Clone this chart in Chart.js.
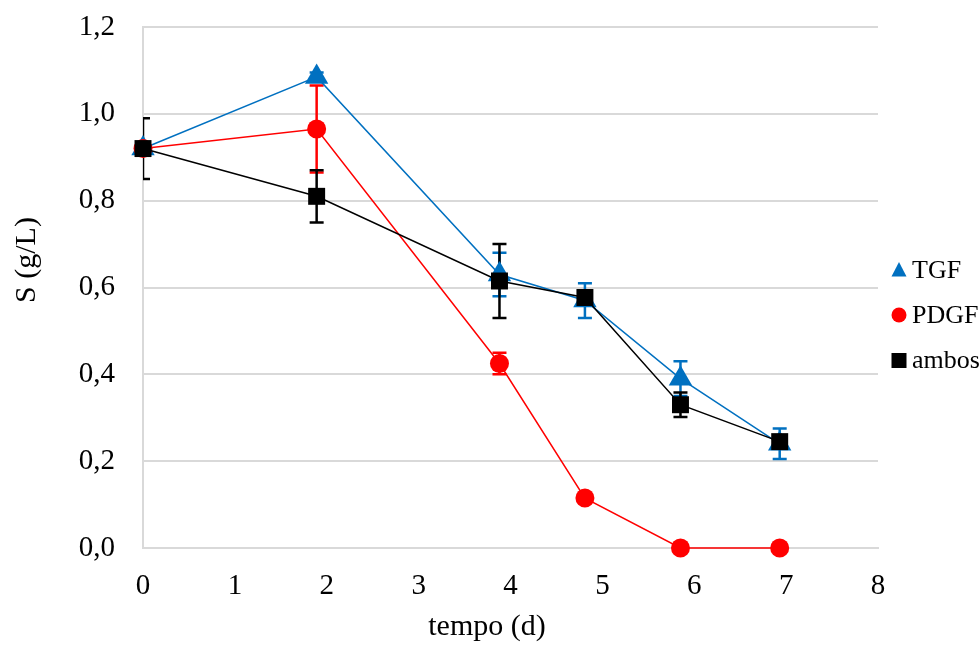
<!DOCTYPE html>
<html>
<head>
<meta charset="utf-8">
<script src="https://cdn.jsdelivr.net/npm/chart.js@4/dist/chart.umd.min.js"></script>
<style>
html,body{margin:0;padding:0;background:#fff;}
#wrap{width:980px;height:648px;position:relative;}
</style>
</head>
<body>
<div id="wrap"><canvas id="c" width="980" height="648"></canvas></div>
<script>
// ---- data ----
const times = [0, 1.89, 3.88, 4.81, 5.85, 6.93];
const seriesNames = ['TGF', 'PDGF', 'ambos'];
const tgfValues   = [0.92, 1.085, 0.63, 0.57, 0.39, 0.24];
const pdgfValues  = [0.92, 0.965, 0.425, 0.115, 0.0, 0.0];
const ambosValues = [0.92, 0.81, 0.615, 0.577, 0.33, 0.245];
const tgfErrors   = [0.0, 0.01, 0.05, 0.04, 0.04, 0.035];
const pdgfErrors  = [0.0, 0.1, 0.025, 0.01, 0.0, 0.0];
const ambosErrors = [0.07, 0.06, 0.085, 0.01, 0.028, 0.01];
const xTickValues = [0, 1, 2, 3, 4, 5, 6, 7, 8];
const yTickLabels = ['0,0', '0,2', '0,4', '0,6', '0,8', '1,0', '1,2'];
const xTitle = 'tempo (d)';
const yTitle = 'S (g/L)';

const colors = ['#0070C0', '#FF0000', '#000000'];
const styles = ['triangle', 'circle', 'rect'];
const radii = [13.5, 9.5, 12];
const valueSets = [tgfValues, pdgfValues, ambosValues];
const errorSets = [tgfErrors, pdgfErrors, ambosErrors];
const FONT = '"Liberation Serif", "Times New Roman", serif';

const datasets = seriesNames.map((name, i) => ({
  label: name,
  data: times.map((t, j) => ({x: t, y: valueSets[i][j]})),
  errors: errorSets[i],
  borderColor: colors[i],
  backgroundColor: colors[i],
  pointBackgroundColor: colors[i],
  pointBorderColor: colors[i],
  pointStyle: styles[i],
  pointRadius: radii[i],
  pointBorderWidth: 0,
  borderWidth: 1.5,
  showLine: true,
  tension: 0,
  clip: false,
  order: 2 - i
}));

const errorBarPlugin = {
  id: 'errorBars',
  beforeDatasetsDraw(chart) {
    const {ctx, chartArea, scales} = chart;
    ctx.save();
    ctx.beginPath();
    ctx.rect(chartArea.left, chartArea.top - 40, chartArea.right - chartArea.left, chartArea.bottom - chartArea.top + 40);
    ctx.clip();
    chart.data.datasets.forEach((ds, i) => {
      ctx.strokeStyle = ds.borderColor;
      ctx.lineWidth = 2.5;
      ds.data.forEach((p, j) => {
        const e = ds.errors[j];
        if (!e) return;
        const x = scales.x.getPixelForValue(p.x);
        const y1 = scales.y.getPixelForValue(p.y + e);
        const y2 = scales.y.getPixelForValue(p.y - e);
        ctx.beginPath();
        ctx.moveTo(x, y1); ctx.lineTo(x, y2);
        ctx.moveTo(x - 7, y1); ctx.lineTo(x + 7, y1);
        ctx.moveTo(x - 7, y2); ctx.lineTo(x + 7, y2);
        ctx.stroke();
      });
    });
    ctx.restore();
  }
};

const titlesPlugin = {
  id: 'axisTitles',
  afterDraw(chart) {
    const ctx = chart.ctx;
    ctx.save();
    ctx.fillStyle = '#000';
    ctx.font = '30px ' + FONT;
    ctx.textAlign = 'center';
    ctx.textBaseline = 'middle';
    ctx.fillText(xTitle, 487, 627);
    ctx.translate(27, 260);
    ctx.rotate(-Math.PI / 2);
    ctx.fillText(yTitle, 0, 0);
    ctx.restore();
  }
};

const legendPlugin = {
  id: 'sideLegend',
  afterDraw(chart) {
    const ctx = chart.ctx;
    const x0 = 899, ys = [270, 315, 360.5];
    ctx.save();
    chart.data.datasets.forEach((ds, i) => {
      const y = ys[i];
      ctx.fillStyle = ds.backgroundColor;
      ctx.beginPath();
      if (ds.pointStyle === 'triangle') {
        ctx.moveTo(x0, y - 8); ctx.lineTo(x0 + 7.5, y + 6.5); ctx.lineTo(x0 - 7.5, y + 6.5); ctx.closePath();
      } else if (ds.pointStyle === 'circle') {
        ctx.arc(x0, y, 7.5, 0, Math.PI * 2);
      } else {
        ctx.rect(x0 - 7.5, y - 7.5, 15, 15);
      }
      ctx.fill();
      ctx.fillStyle = '#000';
      ctx.font = '26px ' + FONT;
      ctx.textBaseline = 'middle';
      ctx.textAlign = 'left';
      ctx.fillText(ds.label, 912, y + 1);
    });
    ctx.restore();
  }
};

new Chart(document.getElementById('c'), {
  type: 'scatter',
  data: {datasets},
  options: {
    responsive: false,
    animation: false,
    devicePixelRatio: 1,
    layout: {padding: {top: 27, right: 102, left: 6, bottom: 0}},
    plugins: {legend: {display: false}, tooltip: {enabled: false}},
    scales: {
      x: {
        type: 'linear', min: 0, max: 8,
        afterBuildTicks(scale) { scale.ticks = xTickValues.map(v => ({value: v})); },
        ticks: {color: '#000', font: {family: FONT, size: 29}, padding: 21},
        grid: {display: false, drawTicks: false},
        border: {display: true, color: '#d9d9d9', width: 2},
        title: {display: false},
        afterFit(scale) { scale.height = 100; scale.paddingLeft = 0; scale.paddingRight = 0; }
      },
      y: {
        type: 'linear', min: 0, max: 1.2,
        ticks: {stepSize: 0.2, color: '#000', font: {family: FONT, size: 29}, padding: 28,
          callback: (v, idx) => yTickLabels[idx]},
        grid: {color: '#d9d9d9', lineWidth: 2, drawTicks: false},
        border: {display: true, color: '#d9d9d9', width: 2},
        title: {display: false},
        afterFit(scale) { scale.width = 137; scale.paddingTop = 0; scale.paddingBottom = 0; }
      }
    }
  },
  plugins: [errorBarPlugin, titlesPlugin, legendPlugin]
});
</script>
</body>
</html>
